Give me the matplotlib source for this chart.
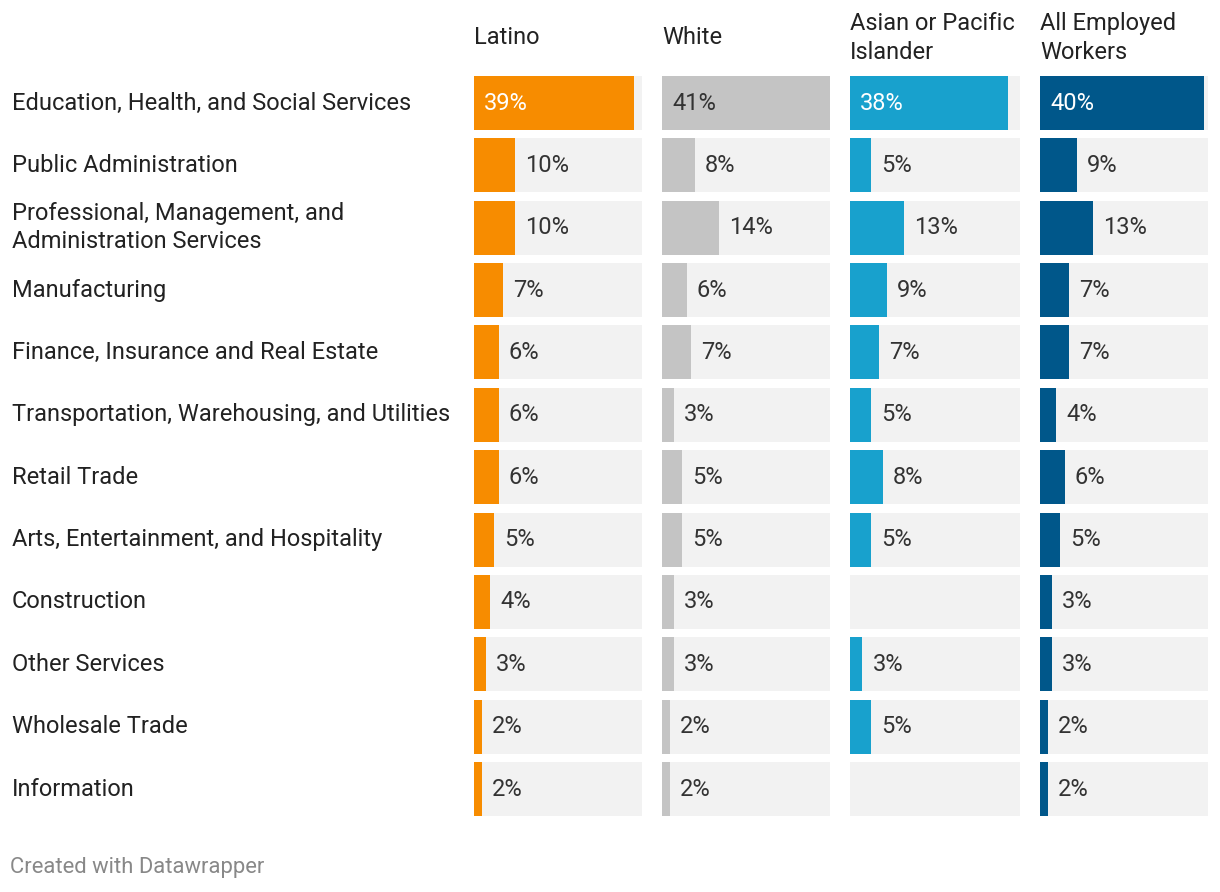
import numpy as np
import matplotlib
matplotlib.use('Agg')
import matplotlib.pyplot as plt

plt.rcParams['font.family'] = ['Roboto', 'DejaVu Sans']

industries = ['Education, Health, and Social Services',
              'Public Administration',
              'Professional, Management, and\nAdministration Services',
              'Manufacturing',
              'Finance, Insurance and Real Estate',
              'Transportation, Warehousing, and Utilities',
              'Retail Trade',
              'Arts, Entertainment, and Hospitality',
              'Construction',
              'Other Services',
              'Wholesale Trade',
              'Information']

groups = ['Latino', 'White', 'Asian or Pacific\nIslander', 'All Employed\nWorkers']

latino = [39, 10, 10, 7, 6, 6, 6, 5, 4, 3, 2, 2]
white = [41, 8, 14, 6, 7, 3, 5, 5, 3, 3, 2, 2]
asian = [38, 5, 13, 9, 7, 5, 8, 5, np.nan, 3, 5, np.nan]
all_workers = [40, 9, 13, 7, 7, 4, 6, 5, 3, 3, 2, 2]

series = [latino, white, asian, all_workers]
colors = ['#f78c00', '#c4c4c4', '#18a1cd', '#00578a']
inside_text = ['white', '#333333', 'white', 'white']
xmax = 41

W, H = 1220, 892
fig = plt.figure(figsize=(W / 100, H / 100), dpi=100)

# column positions in pixels (left, right)
cols = [(474, 642), (662, 830), (850, 1020), (1040, 1208)]
n = len(industries)
first_c, last_c = 103, 789
step = (last_c - first_c) / (n - 1)
top, bottom = first_c - step / 2, last_c + step / 2
bar_h = 54 / step
fs = 17

for k, (x0, x1) in enumerate(cols):
    ax = fig.add_axes([x0 / W, 1 - bottom / H, (x1 - x0) / W, (bottom - top) / H])
    y = np.arange(n)
    ax.barh(y, [xmax] * n, height=bar_h, color='#f2f2f2', linewidth=0)
    vals = np.array(series[k], dtype=float)
    ax.barh(y, np.nan_to_num(vals), height=bar_h, color=colors[k], linewidth=0)
    ax.set_xlim(0, xmax)
    ax.set_ylim(n - 0.5, -0.5)
    ax.axis('off')
    px = xmax / (x1 - x0)  # data units per pixel
    for i, v in enumerate(vals):
        if np.isnan(v):
            continue
        lab = '%d%%' % v
        if v > 30:
            ax.text(10 * px, i, lab, va='center', ha='left', fontsize=fs,
                    color=inside_text[k])
        else:
            ax.text(v + 10 * px, i, lab, va='center', ha='left', fontsize=fs,
                    color='#333333')
    fig.text(x0 / W, 1 - 38 / H, groups[k], ha='left', va='center',
             fontsize=fs, color='#222222', linespacing=1.28)

for i, name in enumerate(industries):
    yc = first_c + step * i
    fig.text(12 / W, 1 - yc / H, name, ha='left', va='center', fontsize=fs,
             color='#222222', linespacing=1.28)

fig.text(10 / W, 1 - 868 / H, 'Created with Datawrapper', ha='left',
         va='center', fontsize=15.8, color='#888888')

fig.savefig('out.png', dpi=100, facecolor='white')
